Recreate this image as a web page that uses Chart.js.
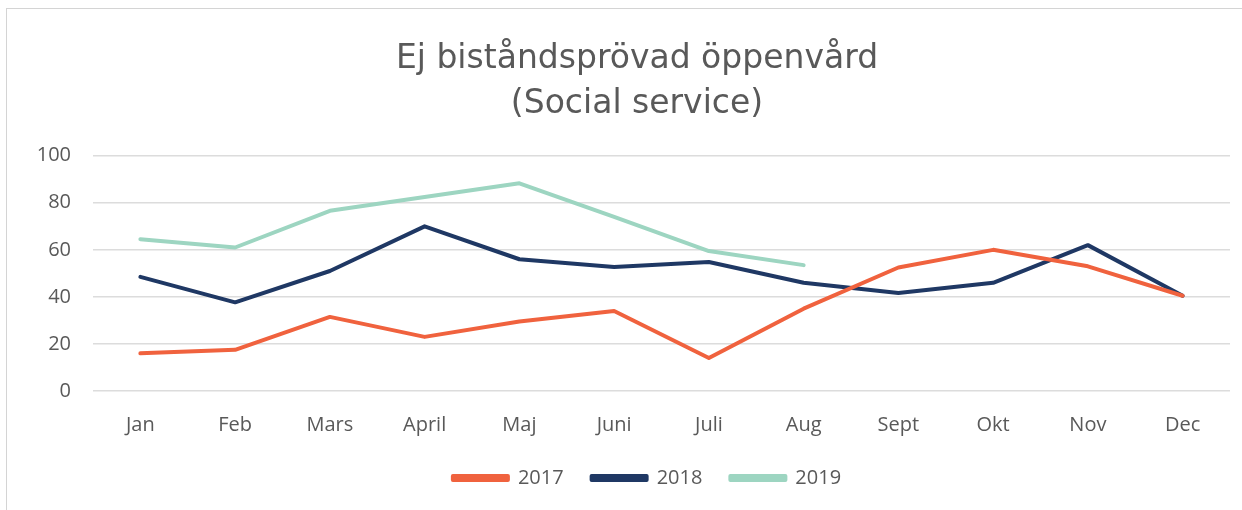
<!DOCTYPE html>
<html>
<head>
<meta charset="utf-8">
<script src="https://cdn.jsdelivr.net/npm/chart.js@4/dist/chart.umd.min.js"></script>
<style>
  html, body { margin: 0; padding: 0; background: #fff; }
  #wrap { position: relative; width: 1242px; height: 510px; overflow: hidden; }
  #frame { position: absolute; left: 6px; top: 8px; width: 1260px; height: 520px; border: 1px solid #d4d4d4; box-sizing: border-box; }
  #chart { position: absolute; left: 0; top: 0; }
</style>
</head>
<body>
<div id="wrap">
  <div id="frame"></div>
  <canvas id="chart" width="1242" height="510"></canvas>
</div>
<script>
const months = ["Jan", "Feb", "Mars", "April", "Maj", "Juni", "Juli", "Aug", "Sept", "Okt", "Nov", "Dec"];
const years = ["2017", "2018", "2019"];
const values2017 = [16, 17.5, 31.5, 23, 29.5, 34, 14, 35, 52.5, 60, 53, 40.5];
const values2018 = [48.5, 37.7, 51, 70, 56, 52.7, 54.8, 46, 41.7, 46, 62, 40.5];
const values2019 = [64.5, 61, 76.6, 82.5, 88.3, 74, 59.5, 53.5];
const yTicks = [0, 20, 40, 60, 80, 100];
const lineColors = ["#f0623e", "#1f3864", "#9dd5c1"];

const textGray = "#595959";
const tickFont = { family: "'Open Sans', sans-serif", size: 20 };

const series = [values2017, values2018, values2019];

// nudge title and legend so they sit under the middle of the frame,
// and pull the legend up closer to the month labels
const boxShift = {
    id: "boxShift",
    afterLayout(chart) {
        chart.legend.left += 22;
        chart.legend.right += 22;
        chart.legend.top -= 19;
        chart.legend.bottom -= 19;
        chart.titleBlock.left += 12;
        chart.titleBlock.right += 12;
    }
};

new Chart(document.getElementById("chart").getContext("2d"), {
    type: "line",
    data: {
        labels: months,
        datasets: years.map((y, i) => ({
            label: y,
            data: series[i],
            borderColor: lineColors[i],
            backgroundColor: lineColors[i],
            borderWidth: 4,
            pointRadius: 0,
            tension: 0,
            borderCapStyle: "round",
            borderJoinStyle: "round",
        }))
    },
    plugins: [boxShift],
    options: {
        responsive: false,
        animation: false,
        layout: { padding: { top: 36, right: 12, bottom: 0, left: 20 } },
        plugins: {
            tooltip: { enabled: false },
            title: {
                display: true,
                text: ["Ej biståndsprövad öppenvård", "(Social service)"],
                color: textGray,
                font: { family: "'DejaVu Sans', sans-serif", size: 33, weight: "normal", lineHeight: 1.39 },
                padding: { top: 0, bottom: 28 },
            },
            legend: {
                position: "bottom",
                maxHeight: 51,
                labels: {
                    color: textGray,
                    font: tickFont,
                    boxWidth: 55,
                    boxHeight: 4,
                    padding: 28,
                },
            },
        },
        scales: {
            x: {
                offset: true,
                grid: { display: false, drawTicks: false },
                border: { display: false },
                ticks: { color: textGray, font: tickFont, padding: 22, maxRotation: 0 },
            },
            y: {
                min: 0,
                max: 100,
                afterBuildTicks: (axis) => { axis.ticks = yTicks.map(v => ({ value: v })); },
                afterFit: (axis) => { axis.width = 73; },
                grid: { color: "#dcdcdc", lineWidth: 1.5, drawTicks: false },
                border: { display: false },
                ticks: { color: textGray, font: tickFont, padding: 22 },
            },
        },
    },
});
</script>
</body>
</html>
